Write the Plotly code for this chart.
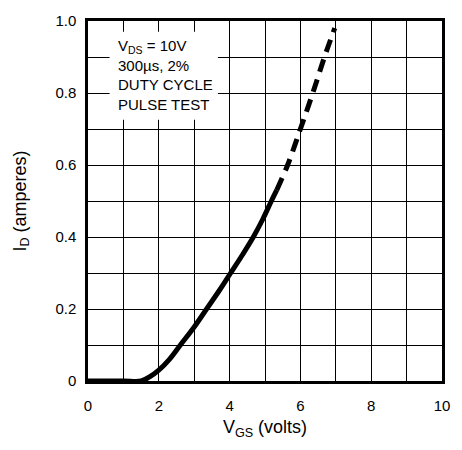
import plotly.graph_objects as go

# Solid (measured) portion of the transfer characteristic
vgs_solid = [0, 1.0, 1.5, 1.75, 2.0, 2.3, 2.61, 3.0, 3.35, 3.7, 4.03, 4.36, 4.67, 4.94, 5.18, 5.33]
id_solid = [0, 0, 0, 0.012, 0.03, 0.06, 0.1, 0.15, 0.2, 0.25, 0.3, 0.35, 0.4, 0.45, 0.5, 0.53]

# Dashed (extrapolated) portion
vgs_dashed = [5.33, 5.64, 6.0, 6.35, 6.68, 6.97]
id_dashed = [0.53, 0.6, 0.7, 0.8, 0.9, 0.98]

x_ticks = [0, 2, 4, 6, 8, 10]
x_ticklabels = ["0", "2", "4", "6", "8", "10"]
y_ticks = [0, 0.2, 0.4, 0.6, 0.8, 1.0]
y_ticklabels = ["0", "0.2", "0.4", "0.6", "0.8", "1.0"]

note_text = "V<sub>DS</sub> = 10V<br>300µs, 2%<br>DUTY CYCLE<br>PULSE TEST"

FONT = "Liberation Sans, Arial, sans-serif"

fig = go.Figure()
fig.add_trace(go.Scatter(
    x=vgs_solid, y=id_solid, mode="lines",
    line=dict(color="black", width=5, shape="spline", smoothing=1.0),
    showlegend=False, hoverinfo="skip"))
fig.add_trace(go.Scatter(
    x=vgs_dashed, y=id_dashed, mode="lines",
    line=dict(color="black", width=5, dash="13px,8px", shape="spline", smoothing=1.0),
    showlegend=False, hoverinfo="skip"))

# white box hiding grid behind the note
fig.add_shape(type="rect", xref="x", yref="y", x0=0.61, x1=3.67, y0=0.726, y1=0.97,
              fillcolor="white", line=dict(width=0), layer="between")
fig.add_annotation(x=0.78, y=0.96, xref="x", yref="y", xanchor="left", yanchor="top",
                   align="left", showarrow=False, text=note_text,
                   font=dict(family=FONT, size=15, color="black"))

fig.update_layout(
    width=462, height=450,
    margin=dict(l=88, r=15, t=16, b=69),
    paper_bgcolor="white", plot_bgcolor="white",
    font=dict(family=FONT, color="black"),
    xaxis=dict(range=[0, 10], tickvals=x_ticks, ticktext=x_ticklabels,
               showgrid=True, gridcolor="black", gridwidth=1.3,
               minor=dict(tickvals=[1, 3, 5, 7, 9], showgrid=True, gridcolor="black", gridwidth=1.3),
               showline=True, mirror=True, linecolor="black", linewidth=2.5,
               zeroline=False, ticks="", ticklabelstandoff=9,
               tickfont=dict(size=15, family=FONT, color="black"),
               title=dict(text="V<sub>GS</sub> (volts)", font=dict(size=18, family=FONT, color="black"),
                          standoff=8)),
    yaxis=dict(range=[0, 1.0], tickvals=y_ticks, ticktext=y_ticklabels,
               showgrid=True, gridcolor="black", gridwidth=1.3,
               minor=dict(tickvals=[0.1, 0.3, 0.5, 0.7, 0.9], showgrid=True, gridcolor="black", gridwidth=1.3),
               showline=True, mirror=True, linecolor="black", linewidth=2.5,
               zeroline=False, ticks="", ticklabelstandoff=6,
               tickfont=dict(size=15, family=FONT, color="black"),
               title=dict(text="I<sub>D</sub> (amperes)", font=dict(size=18, family=FONT, color="black"),
                          standoff=25)),
)

fig.write_html("out.html", config={"displayModeBar": False},
               post_script="document.body.style.margin='0';")
